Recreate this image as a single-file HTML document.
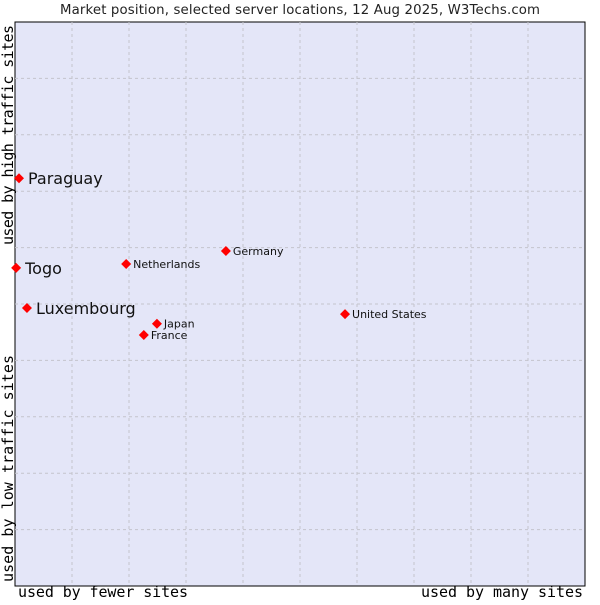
<!DOCTYPE html>
<html><head><meta charset="utf-8"><style>
body{margin:0;background:#fff;width:600px;height:600px;overflow:hidden}
svg{font-family:"DejaVu Sans","Liberation Sans",sans-serif}
</style></head><body>
<svg width="600" height="600">
<text x="300" y="14" text-anchor="middle" font-size="13.3" fill="#222" textLength="480">Market position, selected server locations, 12 Aug 2025, W3Techs.com</text>
<rect x="15" y="22" width="570" height="564" fill="#e4e6f8" stroke="#000" stroke-width="1"/>
<g id="grid"></g>
<g id="pts"></g>
<text x="18" y="597" font-family="DejaVu Sans Mono,monospace" font-size="15" textLength="170" fill="#000">used by fewer sites</text>
<text x="421" y="597" font-family="DejaVu Sans Mono,monospace" font-size="15" textLength="162" fill="#000">used by many sites</text>
<text transform="translate(13,582) rotate(-90)" font-family="DejaVu Sans Mono,monospace" font-size="15" textLength="227" fill="#000">used by low traffic sites</text>
<text transform="translate(13,245) rotate(-90)" font-family="DejaVu Sans Mono,monospace" font-size="15" textLength="220" fill="#000">used by high traffic sites</text>
</svg>
<script>
const names=["Paraguay","Togo","Luxembourg","Netherlands","Germany","Japan","France","United States"];
const xs=[0.7,0.2,2.1,19.5,37.0,24.9,22.6,57.9];
const ys=[72.3,56.4,49.3,57.1,59.4,46.5,44.5,48.2];
const big=[true,true,true,false,false,false,false,false];
const L=15,T=22,W=570,H=564;
const sx=v=>L+v/100*W, sy=v=>T+H-v/100*H;
const ns="http://www.w3.org/2000/svg";
const g=document.getElementById('grid');
for(let i=1;i<10;i++){
 const a=document.createElementNS(ns,'line');
 a.setAttribute('x1',sx(i*10));a.setAttribute('x2',sx(i*10));a.setAttribute('y1',T);a.setAttribute('y2',T+H);
 a.setAttribute('stroke','#c4c4cc');a.setAttribute('stroke-dasharray','3,3');
 
 
 g.appendChild(a);
 const b=document.createElementNS(ns,'line');
 b.setAttribute('y1',sy(i*10));b.setAttribute('y2',sy(i*10));b.setAttribute('x1',L);b.setAttribute('x2',L+W);
 b.setAttribute('stroke','#c4c4cc');b.setAttribute('stroke-dasharray','3,3');
 
 
 g.appendChild(b);
}
const p=document.getElementById('pts');
names.forEach((n,i)=>{
 const x=sx(xs[i]),y=sy(ys[i]);
 const d=document.createElementNS(ns,'path');
 d.setAttribute('d',`M${x-5},${y}L${x},${y-5}L${x+5},${y}L${x},${y+5}Z`);
 d.setAttribute('fill','#f00');
 
 
 p.appendChild(d);
 const t=document.createElementNS(ns,'text');
 t.setAttribute('x',x+(big[i]?9:7));t.setAttribute('y',y+(big[i]?6:4));
 t.setAttribute('font-size',big[i]?16:11);t.setAttribute('fill','#111');
 t.textContent=n;
 
 
 p.appendChild(t);
});
</script>
</body></html>
